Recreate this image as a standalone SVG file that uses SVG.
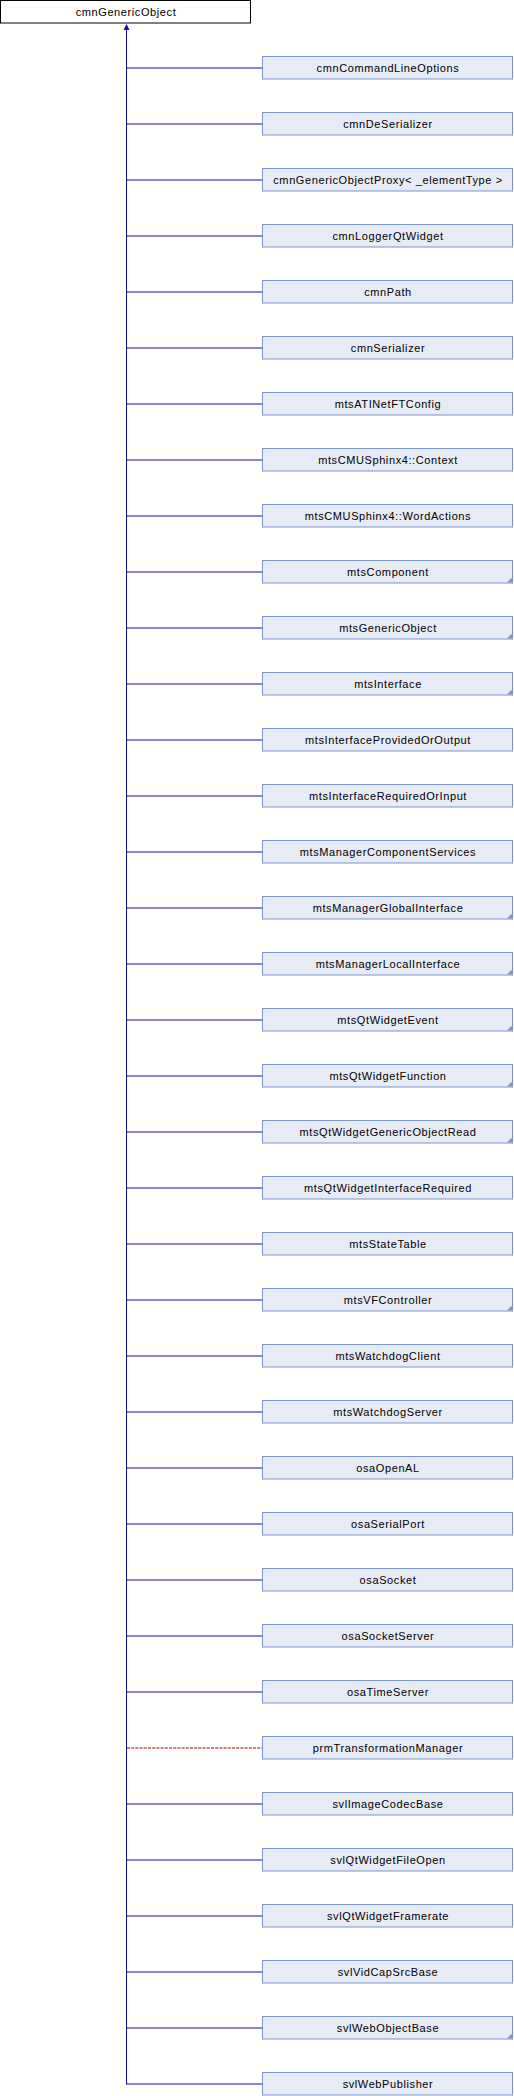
<svg xmlns="http://www.w3.org/2000/svg" width="514" height="2096" viewBox="0 0 514 2096">
<style>
.root{fill:#ffffff;stroke:#000000;stroke-width:1}
.box{fill:#e7ebf5;stroke:#7b93cb;stroke-width:1}
.tri{fill:#7b93cb}
.lbl{font-family:"Liberation Sans",Arial,sans-serif;font-size:11px;letter-spacing:0.6px;fill:#000000;text-anchor:middle}
.edge{stroke:#1010a0;stroke-width:1;fill:none}
.priv{stroke:#a00000;stroke-width:1;fill:none;stroke-dasharray:3,1.2}
</style>
<rect width="514" height="2096" fill="#ffffff"/>
<g id="connectors">
<path class="edge" d="M126.5,29 V2084.5"/>
<polygon points="126.5,24 123.5,30 129.5,30" fill="#1010a0"/>
<path class="edge" d="M126.5,68 H262.5 M126.5,124 H262.5 M126.5,180 H262.5 M126.5,236 H262.5 M126.5,292 H262.5 M126.5,348 H262.5 M126.5,404 H262.5 M126.5,460 H262.5 M126.5,516 H262.5 M126.5,572 H262.5 M126.5,628 H262.5 M126.5,684 H262.5 M126.5,740 H262.5 M126.5,796 H262.5 M126.5,852 H262.5 M126.5,908 H262.5 M126.5,964 H262.5 M126.5,1020 H262.5 M126.5,1076 H262.5 M126.5,1132 H262.5 M126.5,1188 H262.5 M126.5,1244 H262.5 M126.5,1300 H262.5 M126.5,1356 H262.5 M126.5,1412 H262.5 M126.5,1468 H262.5 M126.5,1524 H262.5 M126.5,1580 H262.5 M126.5,1636 H262.5 M126.5,1692 H262.5 M126.5,1804 H262.5 M126.5,1860 H262.5 M126.5,1916 H262.5 M126.5,1972 H262.5 M126.5,2028 H262.5 M126.5,2084 H262.5"/>
<path class="priv" d="M127,1748 H262.5"/>
</g>
<g id="cmnGenericObject"><rect class="root" x="0.5" y="0.5" width="250" height="22.5"/><text class="lbl" x="126" y="15.5">cmnGenericObject</text></g>
<g id="n0"><rect class="box" x="262.5" y="56.5" width="250" height="22.5"/><text class="lbl" x="388" y="71.7">cmnCommandLineOptions</text></g>
<g id="n1"><rect class="box" x="262.5" y="112.5" width="250" height="22.5"/><text class="lbl" x="388" y="127.7">cmnDeSerializer</text></g>
<g id="n2"><rect class="box" x="262.5" y="168.5" width="250" height="22.5"/><text class="lbl" x="388" y="183.7">cmnGenericObjectProxy&lt; _elementType &gt;</text></g>
<g id="n3"><rect class="box" x="262.5" y="224.5" width="250" height="22.5"/><text class="lbl" x="388" y="239.7">cmnLoggerQtWidget</text></g>
<g id="n4"><rect class="box" x="262.5" y="280.5" width="250" height="22.5"/><text class="lbl" x="388" y="295.7">cmnPath</text></g>
<g id="n5"><rect class="box" x="262.5" y="336.5" width="250" height="22.5"/><text class="lbl" x="388" y="351.7">cmnSerializer</text></g>
<g id="n6"><rect class="box" x="262.5" y="392.5" width="250" height="22.5"/><text class="lbl" x="388" y="407.7">mtsATINetFTConfig</text></g>
<g id="n7"><rect class="box" x="262.5" y="448.5" width="250" height="22.5"/><text class="lbl" x="388" y="463.7">mtsCMUSphinx4::Context</text></g>
<g id="n8"><rect class="box" x="262.5" y="504.5" width="250" height="22.5"/><text class="lbl" x="388" y="519.7">mtsCMUSphinx4::WordActions</text></g>
<g id="n9"><rect class="box" x="262.5" y="560.5" width="250" height="22.5"/><polygon class="tri" points="512.5,577 512.5,582.5 507,582.5"/><text class="lbl" x="388" y="575.7">mtsComponent</text></g>
<g id="n10"><rect class="box" x="262.5" y="616.5" width="250" height="22.5"/><polygon class="tri" points="512.5,633 512.5,638.5 507,638.5"/><text class="lbl" x="388" y="631.7">mtsGenericObject</text></g>
<g id="n11"><rect class="box" x="262.5" y="672.5" width="250" height="22.5"/><polygon class="tri" points="512.5,689 512.5,694.5 507,694.5"/><text class="lbl" x="388" y="687.7">mtsInterface</text></g>
<g id="n12"><rect class="box" x="262.5" y="728.5" width="250" height="22.5"/><text class="lbl" x="388" y="743.7">mtsInterfaceProvidedOrOutput</text></g>
<g id="n13"><rect class="box" x="262.5" y="784.5" width="250" height="22.5"/><text class="lbl" x="388" y="799.7">mtsInterfaceRequiredOrInput</text></g>
<g id="n14"><rect class="box" x="262.5" y="840.5" width="250" height="22.5"/><text class="lbl" x="388" y="855.7">mtsManagerComponentServices</text></g>
<g id="n15"><rect class="box" x="262.5" y="896.5" width="250" height="22.5"/><polygon class="tri" points="512.5,913 512.5,918.5 507,918.5"/><text class="lbl" x="388" y="911.7">mtsManagerGlobalInterface</text></g>
<g id="n16"><rect class="box" x="262.5" y="952.5" width="250" height="22.5"/><polygon class="tri" points="512.5,969 512.5,974.5 507,974.5"/><text class="lbl" x="388" y="967.7">mtsManagerLocalInterface</text></g>
<g id="n17"><rect class="box" x="262.5" y="1008.5" width="250" height="22.5"/><polygon class="tri" points="512.5,1025 512.5,1030.5 507,1030.5"/><text class="lbl" x="388" y="1023.7">mtsQtWidgetEvent</text></g>
<g id="n18"><rect class="box" x="262.5" y="1064.5" width="250" height="22.5"/><polygon class="tri" points="512.5,1081 512.5,1086.5 507,1086.5"/><text class="lbl" x="388" y="1079.7">mtsQtWidgetFunction</text></g>
<g id="n19"><rect class="box" x="262.5" y="1120.5" width="250" height="22.5"/><polygon class="tri" points="512.5,1137 512.5,1142.5 507,1142.5"/><text class="lbl" x="388" y="1135.7">mtsQtWidgetGenericObjectRead</text></g>
<g id="n20"><rect class="box" x="262.5" y="1176.5" width="250" height="22.5"/><text class="lbl" x="388" y="1191.7">mtsQtWidgetInterfaceRequired</text></g>
<g id="n21"><rect class="box" x="262.5" y="1232.5" width="250" height="22.5"/><text class="lbl" x="388" y="1247.7">mtsStateTable</text></g>
<g id="n22"><rect class="box" x="262.5" y="1288.5" width="250" height="22.5"/><polygon class="tri" points="512.5,1305 512.5,1310.5 507,1310.5"/><text class="lbl" x="388" y="1303.7">mtsVFController</text></g>
<g id="n23"><rect class="box" x="262.5" y="1344.5" width="250" height="22.5"/><text class="lbl" x="388" y="1359.7">mtsWatchdogClient</text></g>
<g id="n24"><rect class="box" x="262.5" y="1400.5" width="250" height="22.5"/><text class="lbl" x="388" y="1415.7">mtsWatchdogServer</text></g>
<g id="n25"><rect class="box" x="262.5" y="1456.5" width="250" height="22.5"/><text class="lbl" x="388" y="1471.7">osaOpenAL</text></g>
<g id="n26"><rect class="box" x="262.5" y="1512.5" width="250" height="22.5"/><text class="lbl" x="388" y="1527.7">osaSerialPort</text></g>
<g id="n27"><rect class="box" x="262.5" y="1568.5" width="250" height="22.5"/><text class="lbl" x="388" y="1583.7">osaSocket</text></g>
<g id="n28"><rect class="box" x="262.5" y="1624.5" width="250" height="22.5"/><text class="lbl" x="388" y="1639.7">osaSocketServer</text></g>
<g id="n29"><rect class="box" x="262.5" y="1680.5" width="250" height="22.5"/><text class="lbl" x="388" y="1695.7">osaTimeServer</text></g>
<g id="n30"><rect class="box" x="262.5" y="1736.5" width="250" height="22.5"/><text class="lbl" x="388" y="1751.7">prmTransformationManager</text></g>
<g id="n31"><rect class="box" x="262.5" y="1792.5" width="250" height="22.5"/><text class="lbl" x="388" y="1807.7">svlImageCodecBase</text></g>
<g id="n32"><rect class="box" x="262.5" y="1848.5" width="250" height="22.5"/><text class="lbl" x="388" y="1863.7">svlQtWidgetFileOpen</text></g>
<g id="n33"><rect class="box" x="262.5" y="1904.5" width="250" height="22.5"/><text class="lbl" x="388" y="1919.7">svlQtWidgetFramerate</text></g>
<g id="n34"><rect class="box" x="262.5" y="1960.5" width="250" height="22.5"/><text class="lbl" x="388" y="1975.7">svlVidCapSrcBase</text></g>
<g id="n35"><rect class="box" x="262.5" y="2016.5" width="250" height="22.5"/><polygon class="tri" points="512.5,2033 512.5,2038.5 507,2038.5"/><text class="lbl" x="388" y="2031.7">svlWebObjectBase</text></g>
<g id="n36"><rect class="box" x="262.5" y="2072.5" width="250" height="22.5"/><text class="lbl" x="388" y="2087.7">svlWebPublisher</text></g>
</svg>
